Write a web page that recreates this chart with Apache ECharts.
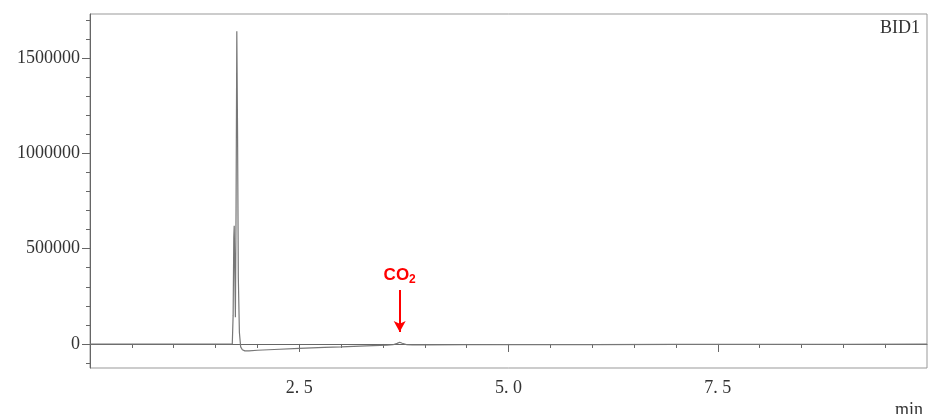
<!DOCTYPE html>
<html>
<head>
<meta charset="utf-8">
<script src="https://cdn.jsdelivr.net/npm/echarts@6/dist/echarts.min.js"></script>
<style>
  html, body { margin: 0; padding: 0; background: #fff; }
  #chart { width: 928px; height: 414px; }
</style>
</head>
<body>
<div id="chart"></div>
<script>
// ---- data ----
const retentionTime = [0, 0.5, 1.0, 1.5, 1.70, 1.71, 1.718, 1.723, 1.737, 1.745, 1.754, 1.763, 1.772, 1.785, 1.80, 1.82, 1.85, 1.90, 2.0, 2.2, 2.5, 2.8, 3.0, 3.3, 3.55, 3.62, 3.67, 3.70, 3.73, 3.78, 3.85, 4.0, 4.5, 5.0, 6.0, 7.0, 8.0, 9.0, 10.0];
const detectorSignal = [0, 0, 0, 0, 0, 150000, 560000, 620000, 140000, 700000, 1640000, 1100000, 350000, 60000, -15000, -30000, -36000, -36000, -33000, -29000, -23000, -18000, -15000, -10000, -6000, -4000, 3000, 9000, 4000, -3000, -4500, -4500, -4000, -3500, -3000, -2500, -2000, -1500, -1000];

const xMajorTicks = [2.5, 5.0, 7.5];
const xMinorTicks = [0.5, 1.0, 1.5, 2.0, 2.5, 3.0, 3.5, 4.0, 4.5, 5.0, 5.5, 6.0, 6.5, 7.0, 7.5, 8.0, 8.5, 9.0, 9.5];
const yMajorTicks = [0, 500000, 1000000, 1500000];
const yMinorTicks = [-100000, 0, 100000, 200000, 300000, 400000, 500000, 600000, 700000, 800000, 900000, 1000000, 1100000, 1200000, 1300000, 1400000, 1500000, 1600000, 1700000];

const co2Time = 3.70;
const co2ArrowFrom = 283000;
const co2ArrowTo = 63000;

const xMin = 0, xMax = 10;
const yMin = -126000, yMax = 1731000;

const seriesData = retentionTime.map((t, i) => [t, detectorSignal[i]]);

const labelFont = 'Liberation Serif';
const axisColor = '#666';

const chart = echarts.init(document.getElementById('chart'));
chart.setOption({
  animation: false,
  backgroundColor: '#fff',
  title: [
    { text: 'BID1', right: 3, top: 14,
      textStyle: { fontFamily: labelFont, fontSize: 18, fontWeight: 'normal', color: '#333' } },
    { text: 'min', right: 0, top: 396,
      textStyle: { fontFamily: labelFont, fontSize: 18, fontWeight: 'normal', color: '#333' } }
  ],
  grid: { left: 90, right: 1, top: 14, bottom: 46, show: true, borderColor: '#999', borderWidth: 1, backgroundColor: 'transparent' },
  xAxis: [
    {
      type: 'value', min: xMin, max: xMax, position: 'bottom',
      axisLine: { show: true, lineStyle: { color: axisColor, width: 1 } },
      axisTick: { show: true, customValues: xMajorTicks, length: 8, lineStyle: { color: axisColor } },
      axisLabel: { customValues: xMajorTicks, formatter: v => v.toFixed(1).replace('.', '. '),
        fontFamily: labelFont, fontSize: 18, color: '#333', margin: 11 },
      splitLine: { show: false }
    },
    {
      type: 'value', min: xMin, max: xMax, position: 'bottom', offset: 0,
      axisLine: { show: false },
      axisTick: { show: true, customValues: xMinorTicks, length: 4, lineStyle: { color: axisColor } },
      axisLabel: { show: false },
      splitLine: { show: false }
    }
  ],
  yAxis: [
    {
      type: 'value', min: yMin, max: yMax, position: 'left',
      axisLine: { show: true, lineStyle: { color: axisColor, width: 1 } },
      axisTick: { show: true, customValues: yMajorTicks, length: 8, lineStyle: { color: axisColor } },
      axisLabel: { customValues: yMajorTicks, formatter: v => String(v),
        fontFamily: labelFont, fontSize: 18, color: '#333', margin: 10 },
      splitLine: { show: false }
    },
    {
      type: 'value', min: yMin, max: yMax, position: 'left', offset: 0,
      axisLine: { show: false },
      axisTick: { show: true, customValues: yMinorTicks, length: 4, lineStyle: { color: axisColor } },
      axisLabel: { show: false },
      splitLine: { show: false }
    }
  ],
  series: [{
    type: 'line',
    xAxisIndex: 0, yAxisIndex: 0,
    data: seriesData,
    showSymbol: false,
    symbol: 'none',
    lineStyle: { color: '#777', width: 1.2 },
    markLine: {
      silent: true,
      symbol: ['none', 'arrow'],
      symbolSize: [9, 11],
      lineStyle: { color: '#ff0000', width: 2, type: 'solid' },
      label: {
        show: true, position: 'start', distance: 4,
        formatter: '{a|CO}{b|2}',
        rich: {
          a: { fontFamily: 'Liberation Sans', fontSize: 17, fontWeight: 'bold', color: '#ff0000', lineHeight: 22, verticalAlign: 'middle' },
          b: { fontFamily: 'Liberation Sans', fontSize: 12, fontWeight: 'bold', color: '#ff0000', lineHeight: 12, verticalAlign: 'bottom' }
        }
      },
      data: [[{ coord: [co2Time, co2ArrowFrom] }, { coord: [co2Time, co2ArrowTo] }]]
    }
  }]
});
</script>
</body>
</html>
